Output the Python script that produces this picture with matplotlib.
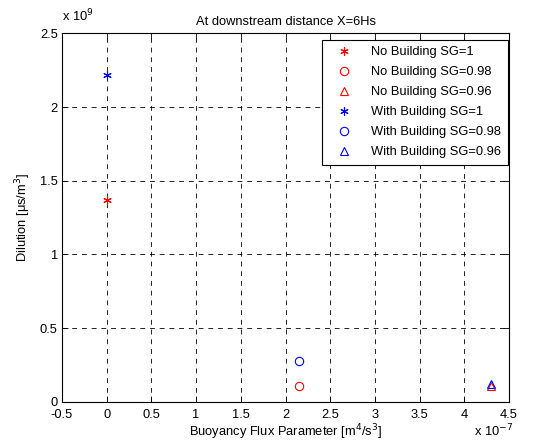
import matplotlib

matplotlib.use("Agg")
import matplotlib.pyplot as plt
from matplotlib.ticker import FuncFormatter, MultipleLocator

# buoyancy flux parameter [m^4/s^3] for the three specific gravities
SG_LABELS = ["1", "0.98", "0.96"]
FLUX = [0.0, 2.15e-7, 4.3e-7]
DILUTION_NO_BUILDING = [1.37e9, 0.105e9, 0.11e9]
DILUTION_WITH_BUILDING = [2.22e9, 0.278e9, 0.12e9]
MARKERS = [(6, 2, 0), "o", "^"]

FS = 9.3
plt.rcParams.update({
    "font.family": ["Liberation Sans", "DejaVu Sans"],
    "font.size": FS,
    "axes.linewidth": 0.8,
    "lines.scale_dashes": False,
})

fig = plt.figure(figsize=(5.48, 4.45), dpi=100)
ax = fig.add_axes([0.113, 0.097, 0.816, 0.828])

for name, values, color in [
    ("No Building", DILUTION_NO_BUILDING, "red"),
    ("With Building", DILUTION_WITH_BUILDING, "blue"),
]:
    for x, y, m, sg in zip(FLUX, values, MARKERS, SG_LABELS):
        ax.plot([x], [y], linestyle="none", marker=m, markersize=6,
                markerfacecolor="none", markeredgecolor=color, markeredgewidth=0.8,
                label=f"{name} SG={sg}")

ax.set_xlim(-0.5e-7, 4.5e-7)
ax.set_ylim(0, 2.5e9)
ax.xaxis.set_major_locator(MultipleLocator(0.5e-7))
ax.yaxis.set_major_locator(MultipleLocator(0.5e9))
ax.xaxis.set_major_formatter(FuncFormatter(lambda v, p: f"{v / 1e-7:g}"))
ax.yaxis.set_major_formatter(FuncFormatter(lambda v, p: f"{v / 1e9:g}"))
ax.tick_params(direction="in", top=True, right=True, length=4, width=0.6, labelsize=FS)
ax.tick_params(axis="x", pad=5)
ax.tick_params(axis="y", pad=3)
for lbl in ax.get_yticklabels():
    lbl.set_va("center_baseline")
ax.grid(True, color="black", linestyle=(0, (3.5, 3.5)), linewidth=0.6)

ax.set_title("At downstream distance X=6Hs", fontsize=FS, pad=6)
ax.set_xlabel("Buoyancy Flux Parameter [m$^4$/s$^3$]", fontsize=FS, labelpad=1)
ax.set_ylabel("Dilution [\u03bcs/m$^3$]", fontsize=FS, labelpad=5)

fig.text(0.113, 0.945, "x 10$^9$", fontsize=FS, ha="left", va="bottom")
fig.text(0.865, 0.012, "x 10$^{-7}$", fontsize=FS, ha="left", va="bottom")

leg = ax.legend(loc="upper right", bbox_to_anchor=(0.997, 0.983), fancybox=False,
                framealpha=1, edgecolor="black", fontsize=FS, handletextpad=1.0,
                borderpad=0.5, labelspacing=0.62, handlelength=2.3, borderaxespad=0.0)
leg.get_frame().set_linewidth(0.8)

fig.savefig("out.png", dpi=100)
